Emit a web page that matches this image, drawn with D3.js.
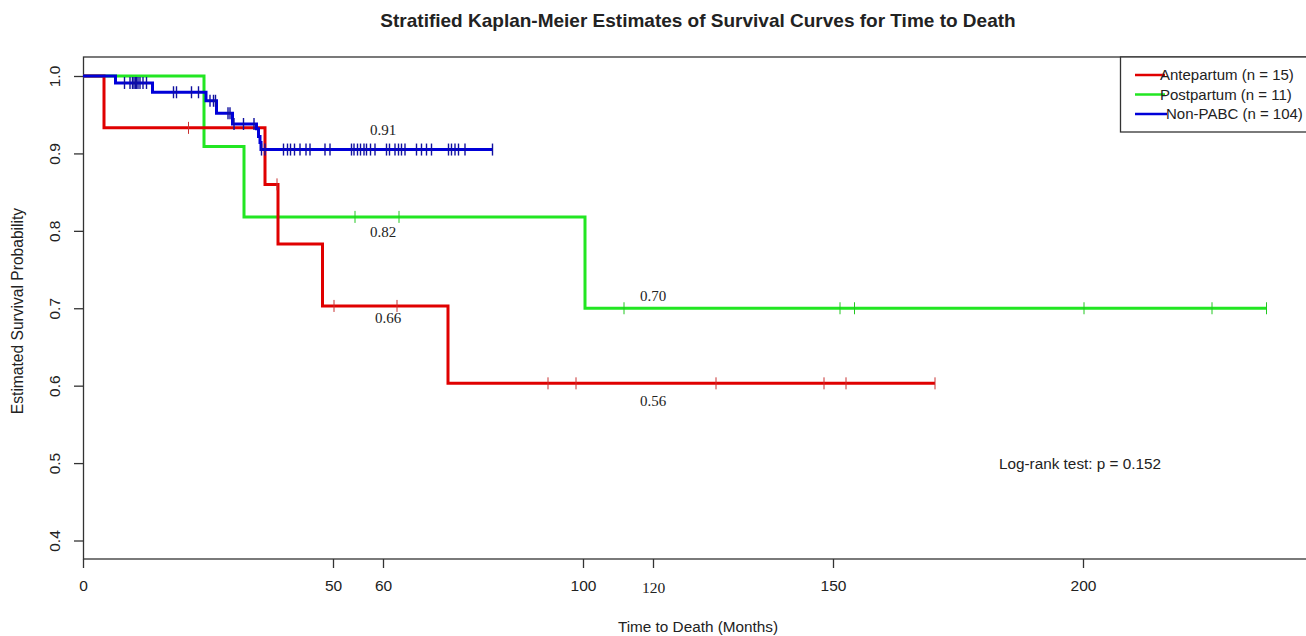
<!DOCTYPE html>
<html>
<head>
<meta charset="utf-8">
<script src="https://cdn.jsdelivr.net/npm/d3@7"></script>
<style>
body { margin:0; background:#fff; }
text { font-family:"Liberation Sans", Arial, sans-serif; fill:#222; }
.serif { font-family:"Liberation Serif", "Times New Roman", serif; }
</style>
</head>
<body>
<div id="graph"></div>
<script>
const width=1306, height=636;
const padding={left:83, top:57, bottom:77};

// Kaplan-Meier steps (time in months, survival)
const antepartumTimes=[0,4.2,36.4,39,47.9,73];
const antepartumSurv=[1,0.933,0.86,0.783,0.703,0.603];
const antepartumEnd=170.4;
const antepartumCensor=[21.1,38.8,50.2,62.8,93,98.6,126.6,148.2,152.6,170.4];

const postpartumTimes=[0,24.2,32.2,100.4];
const postpartumSurv=[1,0.909,0.818,0.70];
const postpartumEnd=236.7;
const postpartumCensor=[54.4,63.2,108.2,151.4,154.3,200.2,225.8,236.7];

const nonpabcTimes=[0,6.5,13.9,24.6,26.7,29.9,34.7,35.1,35.4,35.6];
const nonpabcSurv=[1,0.991,0.979,0.968,0.952,0.938,0.932,0.922,0.914,0.905];
const nonpabcEnd=81.9;
const nonpabcCensor=[8.3,9.4,9.9,10.2,10.5,10.7,11.0,11.4,12.0,12.7,
	18.1,18.7,21.7,23.1,25.4,26.1,26.5,29.0,29.4,30.2,32.1,34.2,
	35.7,36.4,40.1,40.9,41.5,42.3,43.4,44.6,45.4,48.4,49.4,53.7,54.2,54.9,55.5,
	56.2,56.7,57.5,58.4,60.7,61.3,62.4,63.1,63.7,64.4,66.7,67.7,68.7,69.7,
	73.1,73.7,74.4,75.1,76.4,81.9];

const seriesNames=["Antepartum","Postpartum","Non-PABC"];
const legendLabels=["Antepartum (n = 15)","Postpartum (n = 11)","Non-PABC (n = 104)"];
const colors=["#e00000","#22e622","#0000d8"];
const censorColors=["#c83030","#22c822","#1010a0"];

// value labels next to the curves
const valueLabels=["0.66","0.56","0.82","0.70","0.91"];
const valueLabelAt=[[61,0.681],[114,0.574],[60,0.792],[114,0.709],[60,0.924]];

const xTickValues=[0,50,60,100,114,150,200];
const xTickLabels=["0","50","60","100","120","150","200"];
const yTickValues=[0.4,0.5,0.6,0.7,0.8,0.9,1.0];

let graph, xScale, yScale;

function survAt(times, surv, t) {
	let i=d3.bisectRight(times,t)-1;
	return surv[Math.max(i,0)];
}

function setUpChart() {
	graph=d3.select("div#graph")
		.append("svg")
		.attr("width", width)
		.attr("height", height);

	xScale=d3.scaleLinear()
		.range([padding.left, padding.left+245*5])
		.domain([0,245]);

	yScale=d3.scaleLinear()
		.range([540.5, 76])
		.domain([0.4,1.0]);

	// plot box (right side falls outside the picture)
	graph.append("rect")
		.attr("x", 83.5)
		.attr("y", 57)
		.attr("width", 1240)
		.attr("height", height-padding.bottom-57)
		.attr("fill","none")
		.attr("stroke","#333")
		.attr("stroke-width",1.3);

	let xAxis=d3.axisBottom(xScale)
		.tickValues(xTickValues)
		.tickSize(9)
		.tickFormat((d,i) => xTickLabels[i]);

	let gx=graph.append("g")
		.attr("class","x axis")
		.attr("transform", `translate(0, ${height-padding.bottom})`)
		.call(xAxis);
	gx.select(".domain").remove();
	gx.selectAll("line").attr("stroke","#333").attr("stroke-width",1.3);
	gx.selectAll("text")
		.style("font-size","15.5px")
		.style("font-family", (d,i) => xTickLabels[i]=="120" ? '"Liberation Serif", serif' : null)
		.attr("y", (d,i) => xTickLabels[i]=="120" ? 23 : 21);

	let yAxis=d3.axisLeft(yScale)
		.tickValues(yTickValues)
		.tickSize(9)
		.tickFormat(d3.format(".1f"));

	let gy=graph.append("g")
		.attr("class","y axis")
		.attr("transform", `translate(${padding.left}, 0)`)
		.call(yAxis);
	gy.select(".domain").remove();
	gy.selectAll("line").attr("stroke","#333").attr("stroke-width",1.3);
	gy.selectAll("text")
		.attr("x", null)
		.attr("dy", "0.35em")
		.style("font-size","15.5px")
		.style("text-anchor","middle")
		.attr("transform","translate(-28,0) rotate(-90)");

	graph.append("text")
		.attr("x", 698)
		.attr("y", 27)
		.style("text-anchor","middle")
		.style("font-size","19px")
		.style("font-weight","bold")
		.text("Stratified Kaplan-Meier Estimates of Survival Curves for Time to Death");

	graph.append("text")
		.attr("x", 698)
		.attr("y", 632)
		.style("text-anchor","middle")
		.style("font-size","15.3px")
		.text("Time to Death (Months)");

	graph.append("text")
		.attr("transform","rotate(-90)")
		.attr("x", -311)
		.attr("y", 23)
		.style("text-anchor","middle")
		.style("font-size","15.6px")
		.text("Estimated Survival Probability");

	graph.append("text")
		.attr("x", 1080)
		.attr("y", 469)
		.style("text-anchor","middle")
		.style("font-size","15.3px")
		.text("Log-rank test: p = 0.152");
}

function drawChart() {
	let data=[
		{times:antepartumTimes, surv:antepartumSurv, end:antepartumEnd, censor:antepartumCensor},
		{times:postpartumTimes, surv:postpartumSurv, end:postpartumEnd, censor:postpartumCensor},
		{times:nonpabcTimes, surv:nonpabcSurv, end:nonpabcEnd, censor:nonpabcCensor}
	];

	let line=d3.line()
		.curve(d3.curveStepAfter)
		.x(d => xScale(d.t))
		.y(d => yScale(d.s));

	// draw green first, then red, then blue on top
	[1,0,2].forEach(function(i) {
		let d=data[i];
		let pts=d.times.map((t,j) => ({t:t, s:d.surv[j]}));
		pts.push({t:d.end, s:d.surv[d.surv.length-1]});
		let g=graph.append("g").attr("id", seriesNames[i]);
		g.append("path").datum(pts)
			.attr("fill","none")
			.attr("stroke", colors[i])
			.attr("stroke-width", 3)
			.attr("stroke-linejoin","miter")
			.attr("d", line);
		g.selectAll("line.censor").data(d.censor)
			.enter().append("line")
			.attr("class","censor")
			.attr("x1", t => xScale(t))
			.attr("x2", t => xScale(t))
			.attr("y1", t => yScale(survAt(d.times,d.surv,t))-6)
			.attr("y2", t => yScale(survAt(d.times,d.surv,t))+6)
			.attr("stroke", censorColors[i])
			.attr("stroke-width", i==2 ? 1.4 : 1);
	});

	graph.selectAll("text.value").data(valueLabels)
		.enter().append("text")
		.attr("class","value serif")
		.attr("x", (d,i) => xScale(valueLabelAt[i][0]))
		.attr("y", (d,i) => yScale(valueLabelAt[i][1]))
		.style("font-size","15px")
		.style("text-anchor","middle")
		.text(d => d);

	let legend=graph.append("g")
		.attr("class","legend")
		.attr("transform","translate(1120,57)");
	legend.append("rect")
		.attr("x", 0.5)
		.attr("y", 0)
		.attr("width", 200)
		.attr("height", 75)
		.attr("fill","#fff")
		.attr("stroke","#333")
		.attr("stroke-width",1.3);
	legend.selectAll("line.legend").data(legendLabels)
		.enter().append("line")
		.attr("class","legend")
		.attr("x1", 15)
		.attr("x2", (d,i) => i==2 ? 47 : 45)
		.attr("y1", (d,i) => 18+19.5*i)
		.attr("y2", (d,i) => 18+19.5*i)
		.attr("stroke", (d,i) => colors[i])
		.attr("stroke-width", 2.5);
	legend.selectAll("text.legend").data(legendLabels)
		.enter().append("text")
		.attr("class","legend")
		.attr("x", (d,i) => i==2 ? 46 : 40)
		.attr("y", (d,i) => 18+19.5*i)
		.attr("dy","0.35em")
		.style("font-size","15px")
		.text(d => d);
}

setUpChart();
drawChart();
</script>
</body>
</html>
